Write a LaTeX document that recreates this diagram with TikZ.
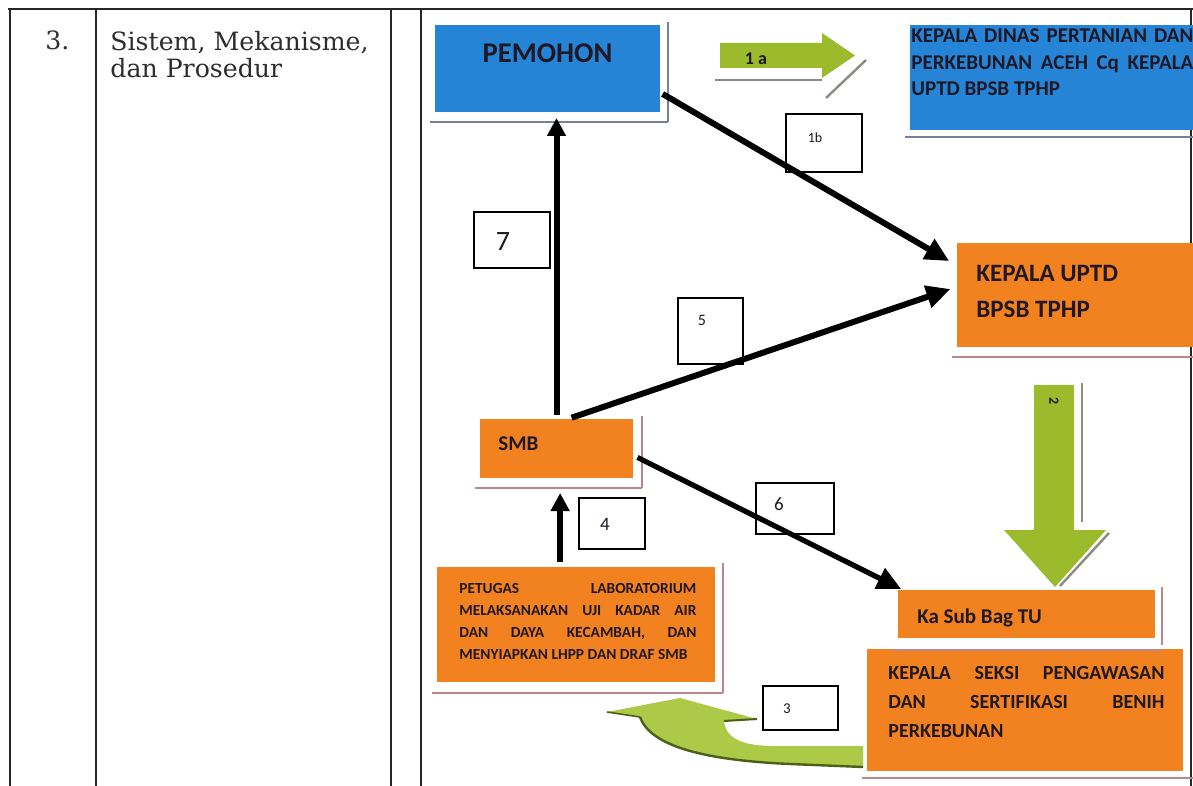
\documentclass[tikz,border=0pt]{standalone}
\usepackage{fontspec}
\usetikzlibrary{arrows.meta}
\newfontfamily\calib{Carlito}
\newfontfamily\dvs{DejaVu Serif}
\definecolor{bbl}{RGB}{38,132,214}
\definecolor{orng}{RGB}{242,130,32}
\definecolor{grn}{RGB}{155,187,45}
\definecolor{grnl}{RGB}{172,202,72}
\definecolor{grnd}{RGB}{75,95,25}
\definecolor{ink}{RGB}{32,24,36}
\definecolor{tink}{RGB}{45,45,45}
\definecolor{shb}{RGB}{120,128,150}
\definecolor{sho}{RGB}{185,135,140}
\definecolor{shg}{RGB}{140,140,130}
\begin{document}
\begin{tikzpicture}[x=0.5pt,y=-0.5pt,
  tline/.style={line width=1pt, draw=black!85},
  box/.style={inner sep=0pt, outer sep=0pt, anchor=north west},
  bluebox/.style={box, fill=bbl},
  orbox/.style={box, fill=orng},
  lbl/.style={draw=black, line width=0.8pt, fill=white, inner sep=0pt, anchor=north west},
  tx/.style={inner sep=0pt, text=ink},
  bt/.style={tx, font=\calib\bfseries\fontsize{#1}{#1}\selectfont},
  nt/.style={tx, font=\calib\fontsize{#1}{#1}\selectfont},
  arr/.style={line width=3pt, -{Triangle[length=12pt,width=11pt]}},
  arrs/.style={line width=3pt, -{Triangle[length=9pt,width=9pt]}},
  shad/.style={line width=1.2pt},
  thin/.style={line width=0.6pt}]
\useasboundingbox (0,0) rectangle (1193,786);
\fill[white] (0,0) rectangle (1193,786);
% table lines
\draw[tline] (8,9) -- (1193,9);
\draw[tline] (10,9) -- (10,786);
\draw[tline] (96,9) -- (96,786);
\draw[tline] (391,9) -- (391,786);
\draw[tline] (421,9) -- (421,786);
\draw[tline] (1191,9) -- (1191,786);
% table texts
\node[tx, text=tink, anchor=base west, font=\dvs\fontsize{12.6}{13.5}\selectfont] (tno) at (45,50) {3.};
\node[tx, text=tink, anchor=north west, align=left, font=\dvs\fontsize{12.6}{13.5}\selectfont] (tsis) at (110,31) {Sistem, Mekanisme,\\dan Prosedur};
% boxes
\node[bluebox, minimum width=112.5pt, minimum height=43.5pt] (pem) at (435,25) {};
\node[bluebox, minimum width=141.5pt, minimum height=52.5pt] (kd) at (910,25) {};
\node[orbox, minimum width=118pt, minimum height=52pt] (kup) at (957,243) {};
\node[orbox, minimum width=76.5pt, minimum height=29.5pt] (smb) at (480,419) {};
\node[orbox, minimum width=139pt, minimum height=57.5pt] (lab) at (437,567) {};
\node[orbox, minimum width=128.5pt, minimum height=24pt] (ksb) at (898,590) {};
\node[orbox, minimum width=158pt, minimum height=61pt] (kps) at (867,649) {};
% shadow lines
\draw[shb, shad] (430,122) -- (668,122);
\draw[shb, thin] (668,22) -- (668,122);
\draw[shb, shad] (905,137) -- (1193,137);
\draw[sho, shad] (952,357) -- (1193,357);
\draw[sho, shad] (475,488) -- (642,488);
\draw[sho, thin] (642,416) -- (642,488);
\draw[sho, shad] (432,693) -- (723,693);
\draw[sho, thin] (723,563) -- (723,693);
\draw[sho, thin] (1162,587) -- (1162,645);
\draw[sho, shad] (893,650) -- (1162,650);
\draw[sho, shad] (862,778) -- (1193,778);
% green block arrow 1a
\fill[grn] (720,43) -- (822,43) -- (822,33) -- (855,55.5) -- (822,78) -- (822,68) -- (720,68) -- cycle;
\draw[shg, shad] (715,80) -- (822,80);
\draw[shg, shad] (826,98) -- (866,60);
% green block arrow 2
\fill[grn] (1034,385) -- (1074,385) -- (1074,530) -- (1106,530) -- (1055,587) -- (1004,530) -- (1034,530) -- cycle;
\draw[shg, thin] (1082,383) -- (1082,522);
\draw[shg, shad] (1060,586) -- (1109,533);
% green curved arrow 3
\fill[grnl] (607,712) -- (680,698) -- (757,719) -- (724,721) .. controls (726,740) and (745,746) .. (775,746) -- (863,746) -- (863,767) -- (790,764) .. controls (700,760) and (650,745) .. (640,717) -- cycle;
\draw[grnd, line width=1.2pt] (863,767) -- (790,764) .. controls (700,760) and (650,745) .. (640,717);
\draw[grnd, line width=1pt] (757,719) -- (724,721);
\draw[grnd, line width=0.8pt] (607,712) -- (640,717);
% label boxes
\node[lbl, minimum width=38pt, minimum height=29pt] (l1b) at (785,113) {};
\node[lbl, minimum width=38pt, minimum height=28pt] (l7) at (473,211) {};
\node[lbl, minimum width=32.5pt, minimum height=33pt] (l5) at (677,297) {};
\node[lbl, minimum width=33pt, minimum height=25.5pt] (l4) at (578,497) {};
\node[lbl, minimum width=39pt, minimum height=25.5pt] (l6) at (755,482) {};
\node[lbl, minimum width=37.5pt, minimum height=22pt] (l3) at (762,685) {};
% connectors
\draw[arr, shorten <=1.5pt, shorten >=4.5pt] (pem.-12) -- (kup.166);
\draw[arr, shorten <=2pt, shorten >=3.5pt] (smb.69) -- (kup.176);
\draw[arrs, shorten <=2pt, shorten >=3pt] (smb.north) -- (smb.north |- pem.south);
\draw[arr, line width=2.6pt, shorten <=2.5pt, shorten >=1pt] (smb.-5) -- (ksb.169);
\draw[arrs, shorten <=2.6pt, shorten >=7.5pt] (lab.north -| smb.-83.5) -- (smb.-83.5);
% texts in boxes
\node[bt=14.3, anchor=base] (tpem) at (547.5,63) {PEMOHON};
\node[bt=9, anchor=base] (t1a) at (756,65) {1 a};
\node[tx, anchor=north west, align=left, font=\calib\bfseries\fontsize{10.5}{13.25}\selectfont] (tkd) at (911,28.5)
  {\makebox[141pt][s]{KEPALA DINAS PERTANIAN DAN}\\\makebox[141pt][s]{PERKEBUNAN ACEH Cq KEPALA}\\UPTD BPSB TPHP};
\node[tx, anchor=north west, align=left, font=\calib\bfseries\fontsize{12.5}{18.3}\selectfont] (tkup) at (976,264.5)
  {KEPALA UPTD\\BPSB TPHP};
\node[bt=10.5, anchor=base west] (tsmb) at (498,450) {SMB};
\node[tx, anchor=north west, align=left, font=\calib\bfseries\fontsize{7.7}{11}\selectfont] (tlab) at (459,582.5)
  {\makebox[118.5pt][s]{PETUGAS LABORATORIUM}\\\makebox[118.5pt][s]{MELAKSANAKAN UJI KADAR AIR}\\\makebox[118.5pt][s]{DAN DAYA KECAMBAH, DAN}\\MENYIAPKAN LHPP DAN DRAF SMB};
\node[bt=10.5, anchor=base west] (tksb) at (917,623) {Ka Sub Bag TU};
\node[tx, anchor=north west, align=left, font=\calib\bfseries\fontsize{10}{14.5}\selectfont] (tkps) at (888,666)
  {\makebox[138pt][s]{KEPALA SEKSI PENGAWASAN}\\\makebox[138pt][s]{DAN SERTIFIKASI BENIH}\\PERKEBUNAN};
\node[nt=7, rotate=-90] (t2) at (1054,401) {\bfseries 2};
% label texts
\node[nt=7] (t1bt) at (815,137.5) {1b};
\node[nt=14] (t7t) at (503,242) {7};
\node[nt=8] (t5t) at (702,320) {5};
\node[nt=9.5] (t4t) at (605,524) {4};
\node[nt=9.5] (t6t) at (779,504) {6};
\node[nt=7.5] (t3t) at (787,709) {3};
\end{tikzpicture}
\end{document}
